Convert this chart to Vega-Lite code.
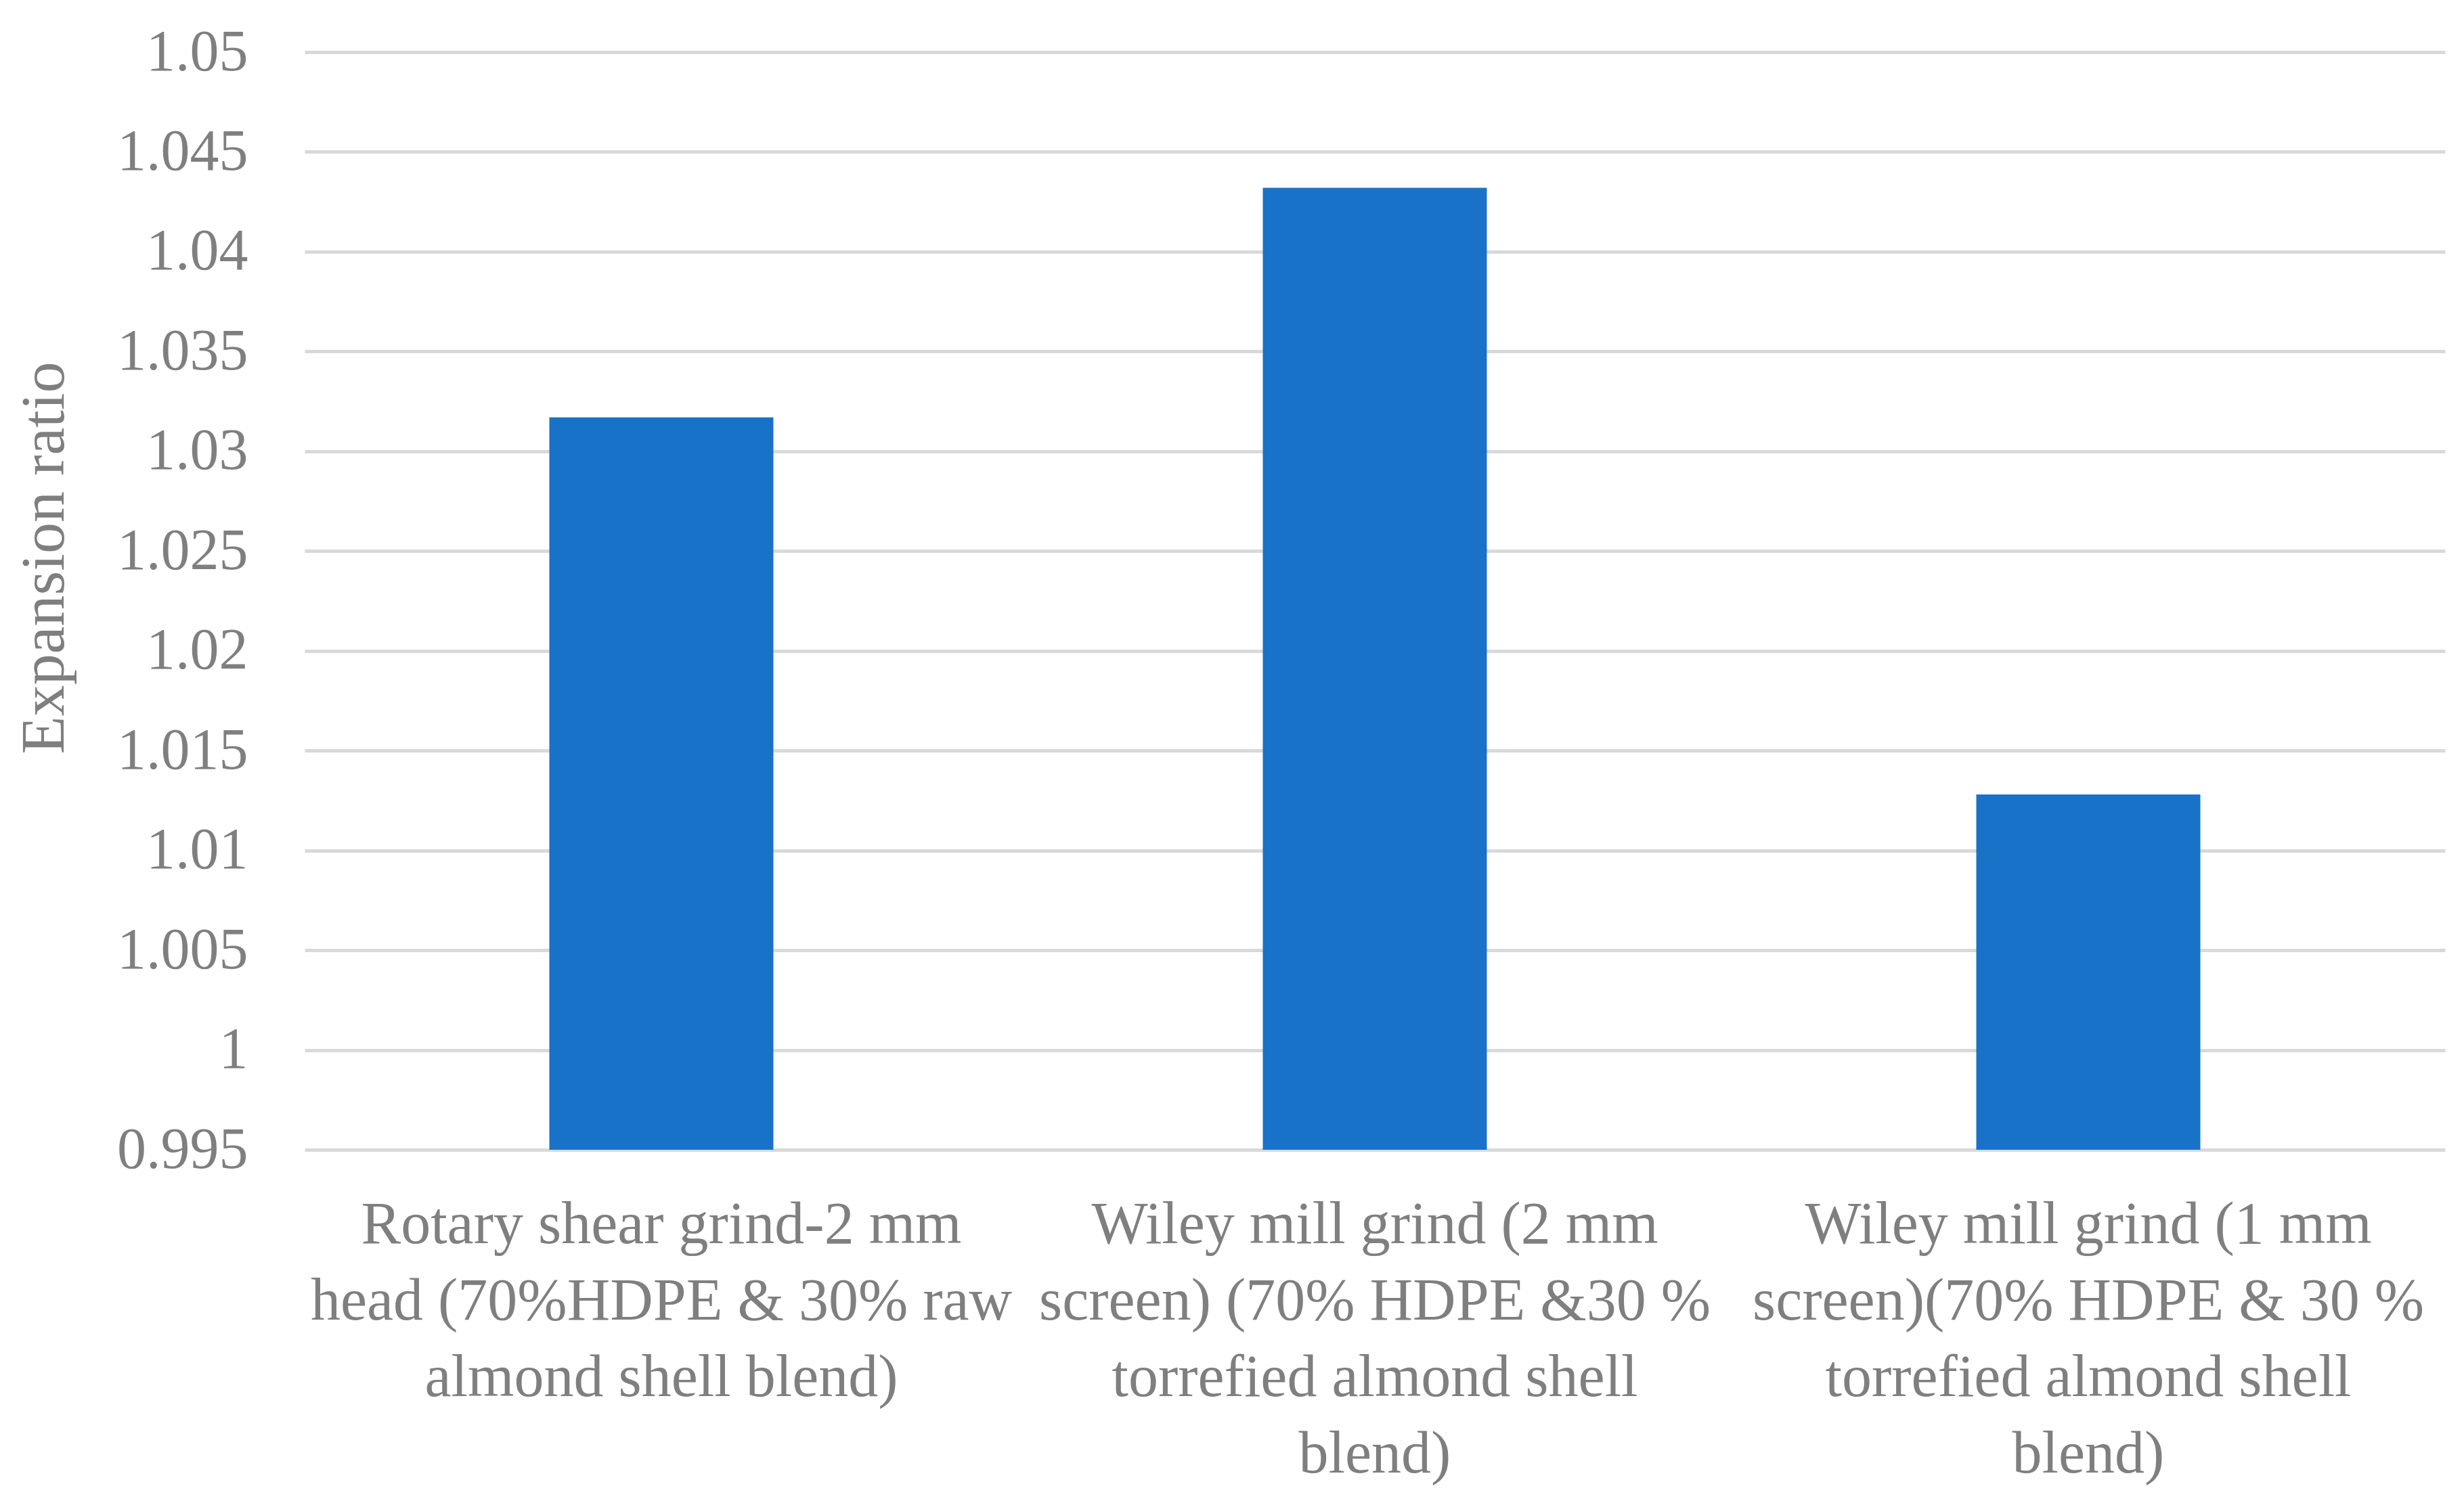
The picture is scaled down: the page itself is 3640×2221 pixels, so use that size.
{
  "$schema": "https://vega.github.io/schema/vega-lite/v6.json",
  "autosize": "none",
  "width": 3162,
  "height": 1622,
  "padding": {"left": 450, "top": 77, "right": 28, "bottom": 522},
  "background": "white",
  "data": {
    "values": [
      {"sample": "Rotary shear grind-2 mm\nhead (70%HDPE & 30% raw\nalmond shell blend)", "ratio": 1.0317},
      {"sample": "Wiley mill grind (2 mm\nscreen) (70% HDPE &30 %\ntorrefied almond shell\nblend)", "ratio": 1.0432},
      {"sample": "Wiley mill grind (1 mm\nscreen)(70% HDPE & 30 %\ntorrefied almond shell\nblend)", "ratio": 1.0128}
    ]
  },
  "config": {
    "view": {"stroke": null},
    "axis": {
      "labelFont": "Liberation Serif",
      "titleFont": "Liberation Serif",
      "labelColor": "#7f7f7f",
      "titleColor": "#7f7f7f",
      "titleFontWeight": "normal",
      "domain": false,
      "ticks": false
    }
  },
  "mark": {"type": "bar", "color": "#1872C8"},
  "encoding": {
    "x": {
      "field": "sample",
      "type": "nominal",
      "sort": null,
      "scale": {"paddingInner": 0.686, "paddingOuter": 0.343},
      "axis": {
        "title": null,
        "labelAngle": 0,
        "labelFontSize": 88,
        "labelLineHeight": 113,
        "labelPadding": 67,
        "labelLimit": 1200,
        "labelExpr": "split(datum.label, '\\n')",
        "grid": false
      }
    },
    "y": {
      "field": "ratio",
      "type": "quantitative",
      "scale": {"domain": [0.995, 1.05], "zero": false, "nice": false},
      "axis": {
        "title": "Expansion ratio",
        "titleFontSize": 92,
        "titleAngle": -90,
        "titleX": -385,
        "titleY": 747,
        "titleBaseline": "middle",
        "titleAlign": "center",
        "labelFontSize": 86,
        "labelPadding": 84,
        "labelLimit": 500,
        "format": "~g",
        "values": [0.995, 1, 1.005, 1.01, 1.015, 1.02, 1.025, 1.03, 1.035, 1.04, 1.045, 1.05],
        "grid": true,
        "gridColor": "#d9d9d9",
        "gridWidth": 5
      }
    },
    "y2": {"datum": 0.995}
  }
}
